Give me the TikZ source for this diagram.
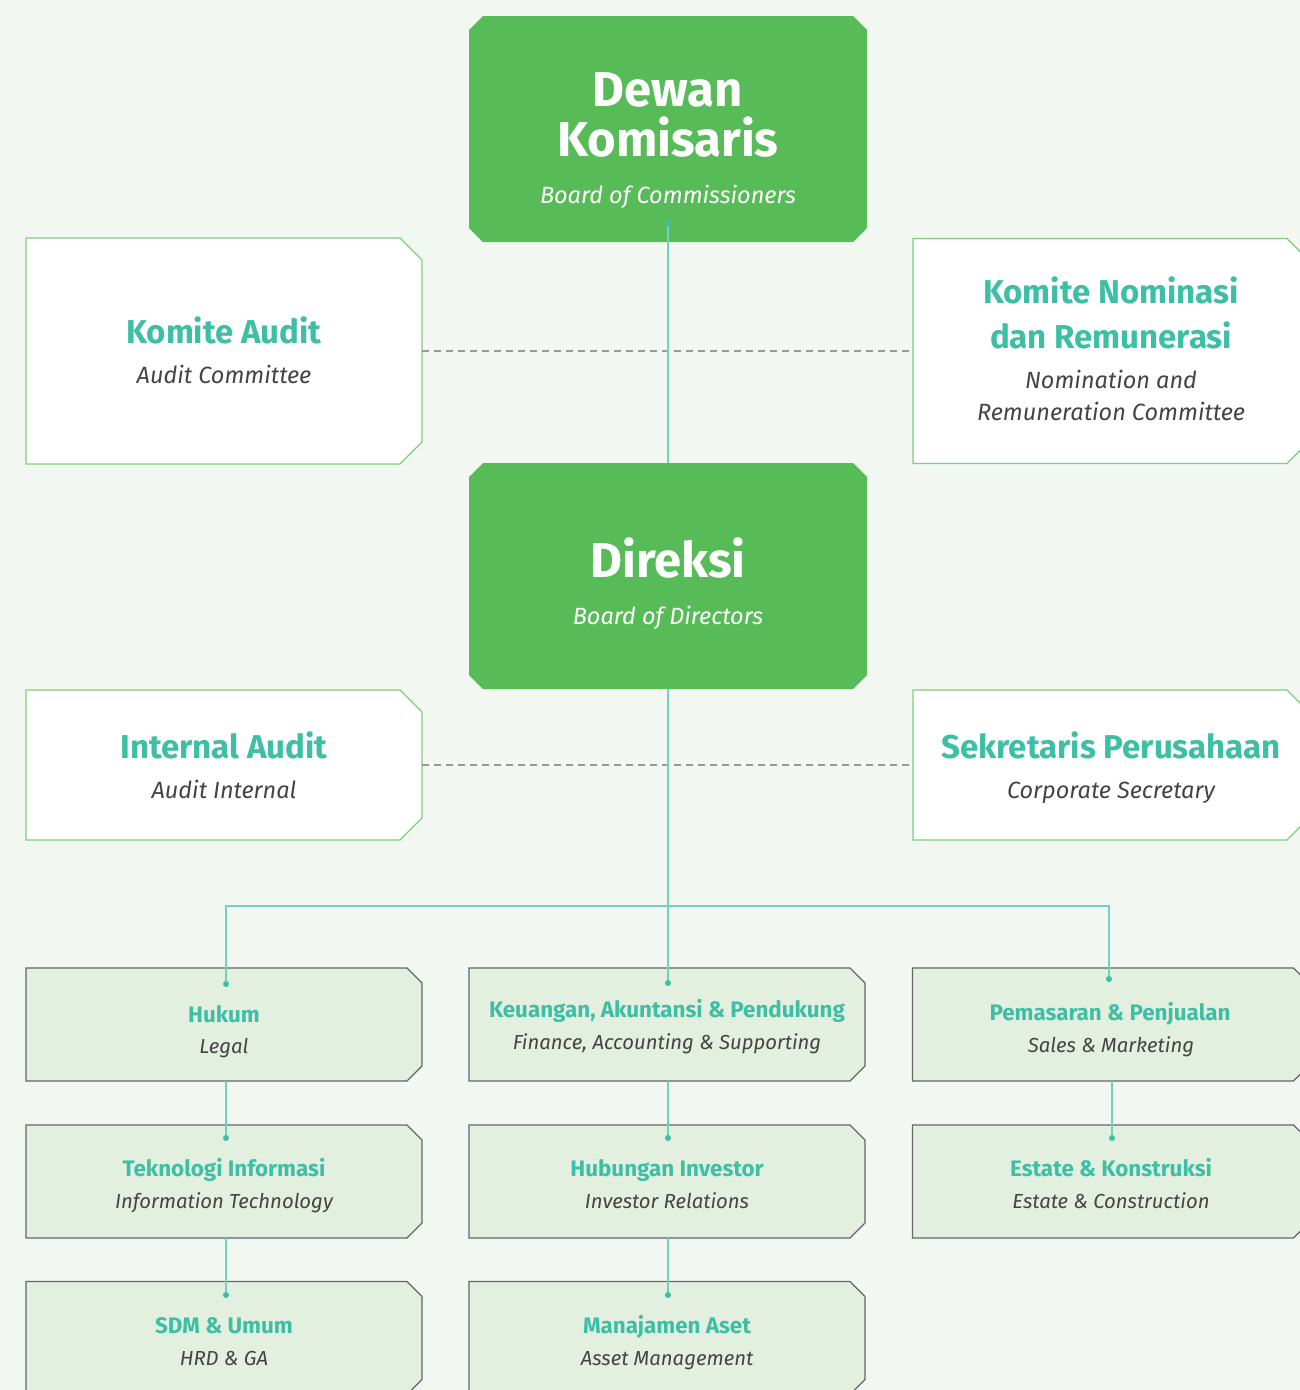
\documentclass[tikz,border=0pt]{standalone}
\usepackage{fontspec}
\setmainfont{Fira Sans}
\definecolor{bg}{HTML}{F2F8F1}
\definecolor{boxgreen}{HTML}{57BC57}
\definecolor{lineborder}{HTML}{7DCF7D}
\definecolor{tealtext}{HTML}{3DBFA6}
\definecolor{tealline}{HTML}{6FD3C0}
\definecolor{subgray}{HTML}{444444}
\definecolor{dashgray}{HTML}{999999}
\definecolor{lowfill}{HTML}{E3EFDF}
\definecolor{lowborder}{HTML}{666666}
% chamfered outline on all four corners of a named node
\newcommand\chamAll[3]{\path[#3] ([xshift=#2]#1.north west) -- ([xshift=-#2]#1.north east) -- ([yshift=-#2]#1.north east) -- ([yshift=#2]#1.south east) -- ([xshift=-#2]#1.south east) -- ([xshift=#2]#1.south west) -- ([yshift=#2]#1.south west) -- ([yshift=-#2]#1.north west) -- cycle;}
% chamfered outline on the two right corners of a named node
\newcommand\chamRight[3]{\path[#3] (#1.north west) -- ([xshift=-#2]#1.north east) -- ([yshift=-#2]#1.north east) -- ([yshift=#2]#1.south east) -- ([xshift=-#2]#1.south east) -- (#1.south west) -- cycle;}
\tikzset{
  boxframe/.style={rectangle, draw=none, fill=none, inner sep=0pt, outer sep=0pt},
  bigfill/.style={fill=boxgreen},
  comfill/.style={fill=white, draw=lineborder, line width=1.2pt},
  unitfill/.style={fill=lowfill, draw=lowborder, line width=1.2pt},
  bigtitle/.style={anchor=base, text=white, font=\fontsize{49}{49}\selectfont\bfseries, inner sep=0pt},
  bigsub/.style={anchor=base, text=white, font=\fontsize{23.5}{23.5}\selectfont\itshape, inner sep=0pt},
  comtitle/.style={anchor=base, text=tealtext, font=\fontsize{33}{33}\selectfont\bfseries, inner sep=0pt},
  comsub/.style={anchor=base, text=subgray, font=\fontsize{23.5}{23.5}\selectfont\itshape, inner sep=0pt},
  unittitle/.style={anchor=base, text=tealtext, font=\fontsize{22.4}{22.4}\selectfont\bfseries, inner sep=0pt},
  unitsub/.style={anchor=base, text=subgray, font=\fontsize{20.3}{20.3}\selectfont\itshape, inner sep=0pt},
  conn/.style={draw=tealline, line width=1.6pt},
  dashline/.style={draw=dashgray, line width=1.8pt, dash pattern=on 7pt off 5pt},
  dotmark/.style={circle, fill=tealtext, inner sep=0pt, minimum size=6pt},
}
\begin{document}
\begin{tikzpicture}[x=1pt,y=-1pt]
\fill[bg] (0,0) rectangle (1300,1390);
\useasboundingbox (0,0) rectangle (1300,1390);
\clip (0,0) rectangle (1300,1390);

% box frames (named)
\node[boxframe, minimum width=398pt, minimum height=226pt] (dk) at (668,129) {};
\node[boxframe, minimum width=396pt, minimum height=226pt] (ka) at (224,351) {};
\node[boxframe, minimum width=396pt, minimum height=225pt] (kn) at (1111,351) {};
\node[boxframe, minimum width=398pt, minimum height=226pt] (dir) at (668,576) {};
\node[boxframe, minimum width=396pt, minimum height=150pt] (ia) at (224,765) {};
\node[boxframe, minimum width=396pt, minimum height=150pt] (sp) at (1111,765) {};

\node[boxframe, minimum width=396pt, minimum height=113pt] (hukum) at (224,1024.5) {};
\node[boxframe, minimum width=396pt, minimum height=113pt] (keu) at (667,1024.5) {};
\node[boxframe, minimum width=396pt, minimum height=113pt] (pem) at (1110.5,1024.5) {};
\node[boxframe, minimum width=396pt, minimum height=113pt] (ti) at (224,1181.5) {};
\node[boxframe, minimum width=396pt, minimum height=113pt] (hi) at (667,1181.5) {};
\node[boxframe, minimum width=396pt, minimum height=113pt] (ek) at (1110.5,1181.5) {};
\node[boxframe, minimum width=396pt, minimum height=113pt] (sdm) at (224,1338) {};
\node[boxframe, minimum width=396pt, minimum height=113pt] (ma) at (667,1338) {};

% box shapes
\chamAll{dk}{14pt}{bigfill}
\chamAll{dir}{14pt}{bigfill}
\chamRight{ka}{22pt}{comfill}
\chamRight{kn}{22pt}{comfill}
\chamRight{ia}{22pt}{comfill}
\chamRight{sp}{22pt}{comfill}
\foreach \b in {hukum,keu,pem,ti,hi,ek,sdm,ma}
  {\chamRight{\b}{15pt}{unitfill}}

% connector points
\coordinate (dkdot) at (668,223);
\coordinate (keudot) at (668,983);
\coordinate (hukdot) at (226,984);
\coordinate (pemdot) at (1109,979);
\coordinate (hj) at (226,906);
\coordinate (pj) at (1109,906);
\coordinate (tidot) at (226,1138);
\coordinate (hidot) at (668,1138);
\coordinate (ekdot) at (1112,1138);
\coordinate (sdmdot) at (226,1295);
\coordinate (madot) at (668,1295);
\coordinate (hukbot) at (226,1081);
\coordinate (keubot) at (668,1081);
\coordinate (pembot) at (1112,1081);
\coordinate (tibot) at (226,1238);
\coordinate (hibot) at (668,1238);

% connectors
\draw[dashline] (ka.east) -- (kn.west);
\draw[dashline] (ia.east) -- (sp.west);
\draw[conn] (dkdot) -- (dir.north);
\draw[conn] (dir.south) -- (keudot);
\draw[conn] (hukdot) -- (hj) -- (pj) -- (pemdot);
\draw[conn] (hukbot) -- (tidot);
\draw[conn] (keubot) -- (hidot);
\draw[conn] (pembot) -- (ekdot);
\draw[conn] (tibot) -- (sdmdot);
\draw[conn] (hibot) -- (madot);
\foreach \d in {dkdot,keudot,hukdot,pemdot,tidot,hidot,ekdot,sdmdot,madot}
  \node[dotmark] at (\d) {};

% texts
\node[bigtitle] (dk1) at (668,106) {Dewan};
\node[bigtitle] (dk2) at (668,156) {Komisaris};
\node[bigsub] (dk3) at (668,203) {Board of Commissioners};

\node[comtitle] (ka1) at (224,343) {Komite Audit};
\node[comsub] (ka2) at (224,383) {Audit Committee};

\node[comtitle] (kn1) at (1111,303) {Komite Nominasi};
\node[comtitle] (kn2) at (1111,348) {dan Remunerasi};
\node[comsub] (kn3) at (1111,388) {Nomination and};
\node[comsub] (kn4) at (1111,420) {Remuneration Committee};

\node[bigtitle] (dir1) at (668,577) {Direksi};
\node[bigsub] (dir2) at (668,624) {Board of Directors};

\node[comtitle] (ia1) at (224,758) {Internal Audit};
\node[comsub] (ia2) at (224,798) {Audit Internal};

\node[comtitle] (sp1) at (1111,758) {Sekretaris Perusahaan};
\node[comsub] (sp2) at (1111,798) {Corporate Secretary};

\node[unittitle] (hukum1) at (224,1022) {Hukum};
\node[unitsub] (hukum2) at (224,1053) {Legal};
\node[unittitle] (keu1) at (667,1017) {Keuangan, Akuntansi \& Pendukung};
\node[unitsub] (keu2) at (667,1049) {Finance, Accounting \& Supporting};
\node[unittitle] (pem1) at (1110,1020) {Pemasaran \& Penjualan};
\node[unitsub] (pem2) at (1111,1052) {Sales \& Marketing};

\node[unittitle] (ti1) at (224,1176) {Teknologi Informasi};
\node[unitsub] (ti2) at (224,1208) {Information Technology};
\node[unittitle] (hi1) at (667,1176) {Hubungan Investor};
\node[unitsub] (hi2) at (667,1208) {Investor Relations};
\node[unittitle] (ek1) at (1111,1176) {Estate \& Konstruksi};
\node[unitsub] (ek2) at (1111,1208) {Estate \& Construction};

\node[unittitle] (sdm1) at (224,1333) {SDM \& Umum};
\node[unitsub] (sdm2) at (224,1365) {HRD \& GA};
\node[unittitle] (ma1) at (667,1333) {Manajamen Aset};
\node[unitsub] (ma2) at (667,1365) {Asset Management};
\end{tikzpicture}
\end{document}
